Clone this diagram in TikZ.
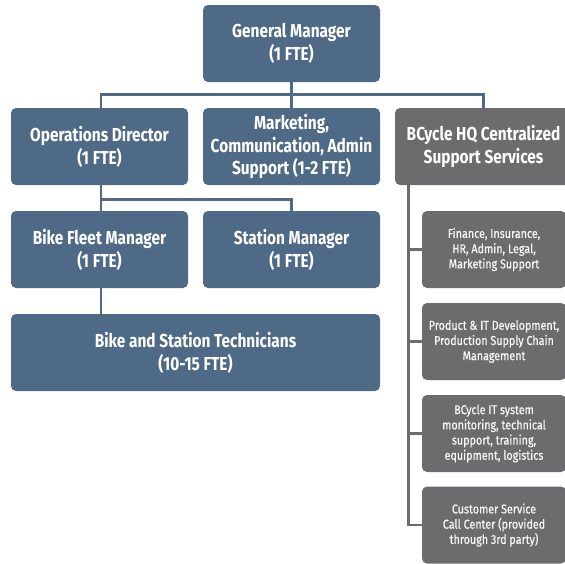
\documentclass[tikz,border=0pt]{standalone}
\usepackage{fontspec}
\setmainfont{Fira Sans}[FakeStretch=0.82]
\newfontfamily\servfont{Fira Sans}[FakeStretch=0.84,FakeBold=0.6]
\usepackage{tikz}
\usetikzlibrary{calc}
\definecolor{slate}{HTML}{4F6A86}
\definecolor{hqgray}{HTML}{6C6C6F}

\begin{document}
\begin{tikzpicture}[x=0.5pt,y=-0.5pt,
    rolebox/.style={rectangle,rounded corners=2.5pt,fill=slate,text=white,align=center,
      inner sep=0pt,minimum width=88.5pt,minimum height=38.5pt,
      font=\fontsize{9.4}{11.4}\selectfont\bfseries},
    hqbox/.style={rolebox,fill=hqgray},
    servbox/.style={rectangle,rounded corners=2.5pt,fill=hqgray,text=white!94!gray,align=center,
      inner sep=0pt,minimum width=72pt,minimum height=38.5pt,
      font=\servfont\fontsize{6.4}{7.6}\selectfont},
    link/.style={draw=slate,line width=1.3pt},
    hqlink/.style={draw=hqgray,line width=1.3pt} ]
    \clip (0,0) rectangle (565,563);
    \node at (291.5,43.5) [rolebox] (gm) {General Manager\\(1 FTE)};
    \node at (99.5,146.5) [rolebox] (ops) {Operations Director\\(1 FTE)};
    \node at (291.5,146.5) [rolebox] (mkt) {Marketing,\\Communication, Admin\\Support (1-2 FTE)};
    \node at (483.5,146.5) [hqbox] (hq) {BCycle HQ Centralized\\Support Services};
    \node at (99.5,249.5) [rolebox] (fleet) {Bike Fleet Manager\\(1 FTE)};
    \node at (291.5,249.5) [rolebox] (station) {Station Manager\\(1 FTE)};
    \node at (195.5,352.5) [rolebox,minimum width=184.5pt] (techs) {Bike and Station Technicians\\(10-15 FTE)};
    \node at (494,249.5) [servbox] (s1) {Finance, Insurance,\\HR, Admin, Legal,\\Marketing Support};
    \node at (494,341.5) [servbox] (s2) {Product \& IT Development,\\Production Supply Chain\\Management};
    \node at (494,433.5) [servbox] (s3) {BCycle IT system\\monitoring, technical\\support, training,\\equipment, logistics};
    \node at (494,525) [servbox] (s4) {Customer Service\\Call Center (provided\\through 3rd party)};
    \draw [link] (gm) to (mkt);
    \draw [link] ([xshift=0.75pt]ops.north) -- ++(0,-13) -| (hq.north);
    \draw [link] ([xshift=0.75pt]ops.south) -- ([xshift=0.75pt]fleet.north);
    \draw [link] ([xshift=0.75pt]ops.south) -- ++(0,14) -| (station.north);
    \draw [link] ([xshift=0.75pt]fleet.south) -- ([xshift=0.75pt]fleet.south |- techs.north);
    \coordinate (hqrail) at ([xshift=7pt]hq.south west);
    \draw [hqlink] (hqrail) |- (s1.west);
    \draw [hqlink] (hqrail) |- (s2.west);
    \draw [hqlink] (hqrail) |- (s3.west);
    \draw [hqlink] (hqrail) |- (s4.west);
\end{tikzpicture}
\end{document}
